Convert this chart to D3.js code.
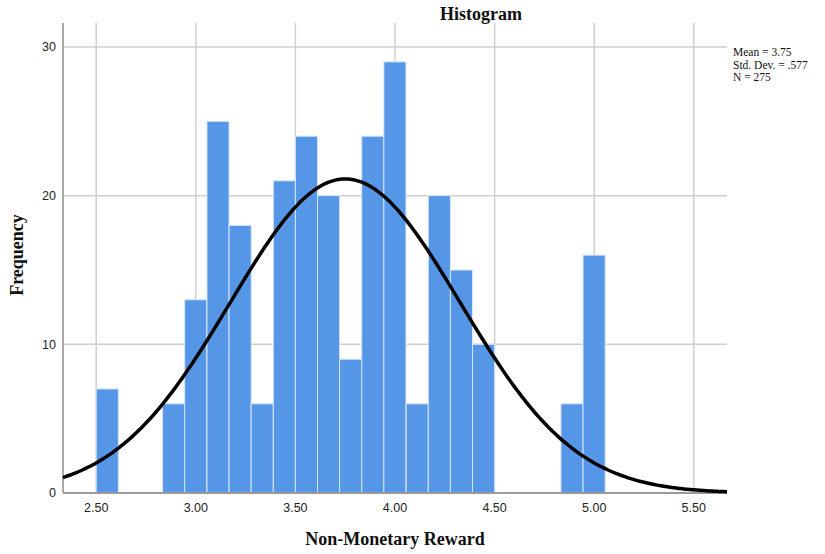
<!DOCTYPE html>
<html>
<head>
<meta charset="utf-8">
<script src="https://cdn.jsdelivr.net/npm/d3@7"></script>
<style>
  body { margin: 0; background: #fff; }
  svg { display: block; }
  .tick-label { font-family: "Liberation Sans", Arial, sans-serif; font-size: 12.5px; fill: #222; }
  .title { font-family: "Liberation Serif", "Times New Roman", serif; font-weight: bold; font-size: 18px; fill: #111; }
  .stats { font-family: "Liberation Serif", "Times New Roman", serif; font-size: 11.5px; fill: #111; }
</style>
</head>
<body>
<script>
// histogram bins: lower edge of each bin and its count
const binLow = [2.500, 2.611, 2.722, 2.833, 2.944, 3.056, 3.167, 3.278, 3.389, 3.500,
  3.611, 3.722, 3.833, 3.944, 4.056, 4.167, 4.278, 4.389, 4.500, 4.611, 4.722, 4.833, 4.944];
const counts = [7, 0, 0, 6, 13, 25, 18, 6, 21, 24, 20, 9, 24, 29, 6, 20, 15, 10, 0, 0, 0, 6, 16];
const binWidth = 1 / 9;

const xTicks = [2.5, 3.0, 3.5, 4.0, 4.5, 5.0, 5.5];
const yTicks = [0, 10, 20, 30];

// summary stats shown at the right (also used for the normal curve)
const mean = 3.75;
const sd = 0.577;
const n = 275;
const statLines = ["Mean = 3.75", "Std. Dev. = .577", "N = 275"];

const W = 825, H = 554;
const plot = { left: 63, right: 727, top: 23, bottom: 493 };

const svg = d3.select("body").append("svg").attr("width", W).attr("height", H);

const x = d3.scaleLinear().domain([2.3333, 5.6667]).range([plot.left, plot.right]);
const y = d3.scaleLinear().domain([0, 30]).range([plot.bottom, 47]);

// grid
const grid = svg.append("g");
grid.selectAll(".vgrid").data(xTicks).join("line")
  .attr("x1", d => x(d)).attr("x2", d => x(d))
  .attr("y1", plot.top).attr("y2", plot.bottom)
  .attr("stroke", "#cfcfcf").attr("stroke-width", 1.5);
grid.selectAll(".hgrid").data(yTicks.filter(d => d > 0)).join("line")
  .attr("x1", plot.left).attr("x2", plot.right)
  .attr("y1", d => y(d)).attr("y2", d => y(d))
  .attr("stroke", "#cfcfcf").attr("stroke-width", 1.5);

// bars
const bins = binLow.map((lo, i) => ({ lo, count: counts[i] })).filter(d => d.count > 0);
svg.append("g").selectAll("rect").data(bins).join("rect")
  .attr("x", d => x(d.lo))
  .attr("width", d => x(d.lo + binWidth) - x(d.lo))
  .attr("y", d => y(d.count))
  .attr("height", d => y(0) - y(d.count))
  .attr("fill", "#5596e6")
  .attr("stroke", "#d8e6f9")
  .attr("stroke-width", 1);

// axes lines
svg.append("line")
  .attr("x1", plot.left).attr("x2", plot.left)
  .attr("y1", plot.top).attr("y2", plot.bottom)
  .attr("stroke", "#8c8c8c").attr("stroke-width", 1.5);
svg.append("line")
  .attr("x1", plot.left).attr("x2", plot.right)
  .attr("y1", plot.bottom).attr("y2", plot.bottom)
  .attr("stroke", "#9a9a9a").attr("stroke-width", 2);

// normal curve
const scale = n * binWidth / (sd * Math.sqrt(2 * Math.PI));
const curveX = d3.range(0, 201).map(i => x.domain()[0] + i * (x.domain()[1] - x.domain()[0]) / 200);
const line = d3.line()
  .x(d => x(d))
  .y(d => y(scale * Math.exp(-0.5 * ((d - mean) / sd) ** 2)))
  .curve(d3.curveBasis);
svg.append("path").datum(curveX)
  .attr("d", line)
  .attr("fill", "none")
  .attr("stroke", "#000")
  .attr("stroke-width", 3.5);

// tick labels
svg.append("g").selectAll("text").data(xTicks).join("text")
  .attr("class", "tick-label")
  .attr("x", d => x(d)).attr("y", 512)
  .attr("text-anchor", "middle")
  .text(d => d3.format(".2f")(d));
svg.append("g").selectAll("text").data(yTicks).join("text")
  .attr("class", "tick-label")
  .attr("x", 56).attr("y", d => y(d))
  .attr("dy", "0.35em")
  .attr("text-anchor", "end")
  .text(d => d);

// titles
svg.append("text").attr("class", "title")
  .attr("x", 481).attr("y", 20).attr("text-anchor", "middle")
  .text("Histogram");
svg.append("text").attr("class", "title")
  .attr("x", 395).attr("y", 545).attr("text-anchor", "middle")
  .text("Non-Monetary Reward");
svg.append("text").attr("class", "title")
  .attr("transform", "translate(23,255) rotate(-90)")
  .attr("text-anchor", "middle")
  .text("Frequency");

// stats box
svg.append("g").selectAll("text").data(statLines).join("text")
  .attr("class", "stats")
  .attr("x", 733).attr("y", (d, i) => 56 + i * 12.5)
  .text(d => d);
</script>
</body>
</html>
